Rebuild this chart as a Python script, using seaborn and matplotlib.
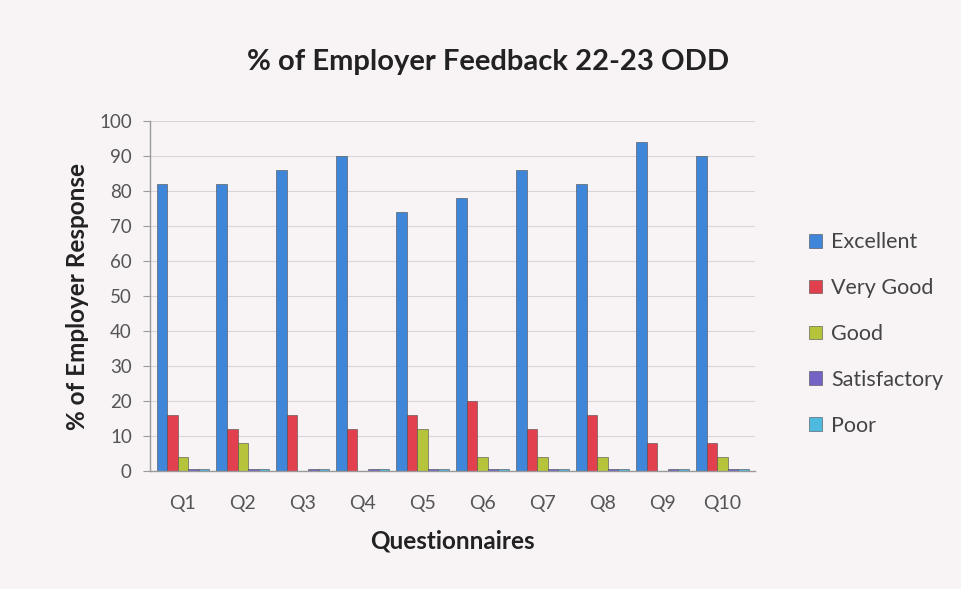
import matplotlib
matplotlib.use("Agg")
import matplotlib.pyplot as plt
import seaborn as sns
import pandas as pd

questions = ["Q1", "Q2", "Q3", "Q4", "Q5", "Q6", "Q7", "Q8", "Q9", "Q10"]
ratings = ["Excellent", "Very Good", "Good", "Satisfactory", "Poor"]
excellent = [82, 82, 86, 90, 74, 78, 86, 82, 94, 90]
very_good = [16, 12, 16, 12, 16, 20, 12, 16, 8, 8]
good = [4, 8, 0, 0, 12, 4, 4, 4, 0, 4]
satisfactory = [0.6, 0.6, 0.6, 0.6, 0.6, 0.6, 0.6, 0.6, 0.6, 0.6]
poor = [0.6, 0.6, 0.6, 0.6, 0.6, 0.6, 0.6, 0.6, 0.6, 0.6]
colors = ["#3f85d8", "#e2404e", "#b5c43a", "#7462c4", "#4fbadf"]

series = [excellent, very_good, good, satisfactory, poor]
rows = []
for r, vals in zip(ratings, series):
    for q, v in zip(questions, vals):
        rows.append({"Question": q, "Rating": r, "Value": v})
df = pd.DataFrame(rows)

sns.set_theme(style="white")
plt.rcParams["font.family"] = ["Lato", "DejaVu Sans"]
bg = "#f8f4f6"
fig = plt.figure(figsize=(9.61, 5.89), dpi=100, facecolor=bg)
ax = fig.add_axes([0.156, 0.2003, 0.63, 0.5943], facecolor=bg)

sns.barplot(data=df, x="Question", y="Value", hue="Rating", hue_order=ratings,
            order=questions, palette=colors, width=0.88, saturation=1, ax=ax,
            edgecolor="#4a4a4a", linewidth=0.4, legend=True)

ax.set_ylim(0, 100)
ax.set_yticks(range(0, 101, 10))
ax.set_xlim(-0.55, 9.55)
ax.yaxis.grid(True, color="#d8d4dc", linewidth=0.8)
ax.set_axisbelow(True)
for s in ["top", "right"]:
    ax.spines[s].set_visible(False)
for s in ["left", "bottom"]:
    ax.spines[s].set_color("#9a9a9a")
    ax.spines[s].set_linewidth(1.0)
ax.tick_params(axis="y", labelsize=13.5, colors="#9a9a9a", length=5, left=True, width=0.8, pad=8)
ax.tick_params(axis="x", labelsize=14, colors="#9a9a9a", length=0, pad=17)
for t in ax.get_yticklabels() + ax.get_xticklabels():
    t.set_color("#555555")

ax.set_xlabel("Questionnaires", fontsize=17.5, fontweight="bold", color="#222222", labelpad=13)
ax.set_ylabel("% of Employer Response", fontsize=17.5, fontweight="bold", color="#222222", labelpad=7)
fig.text(0.508, 0.895, "% of Employer Feedback 22-23 ODD", ha="center", va="center",
         fontsize=21, fontweight="bold", color="#222222")

ax.legend(loc="center left", bbox_to_anchor=(0.822, 0.433), bbox_transform=fig.transFigure,
          frameon=False, fontsize=15.5, labelspacing=1.2, handlelength=0.6, handleheight=0.6,
          handletextpad=0.4, labelcolor="#444444")

fig.savefig("out.png", dpi=100, facecolor=bg)
